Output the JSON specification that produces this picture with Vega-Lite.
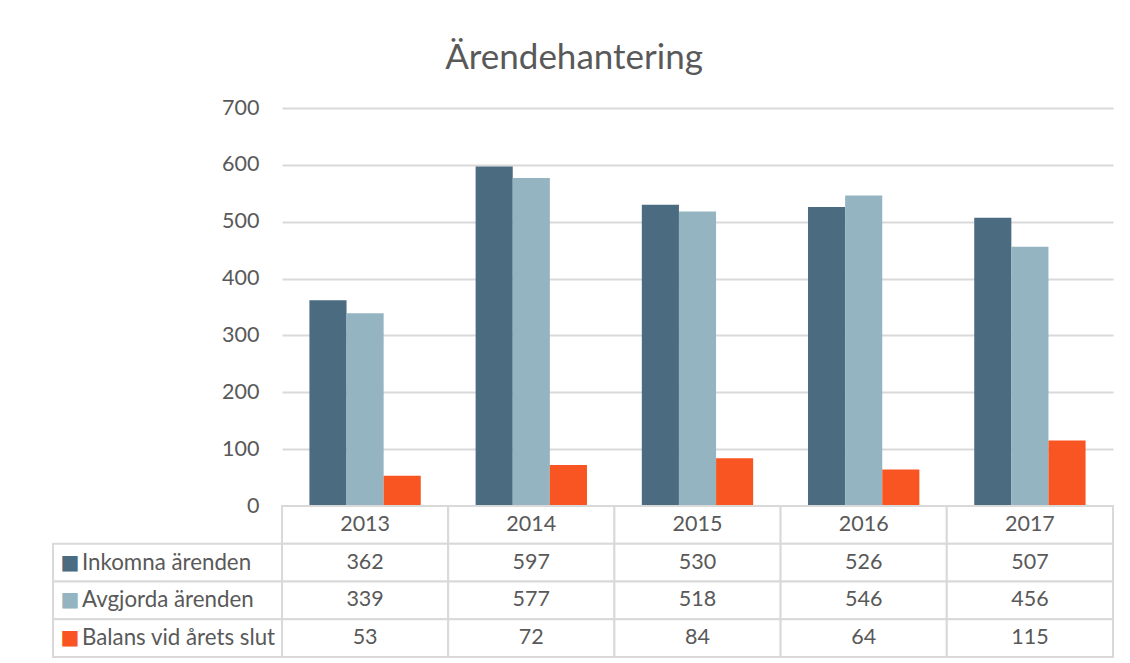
{
  "$schema": "https://vega.github.io/schema/vega-lite/v6.json",
  "background": "white",
  "padding": {"left": 52, "top": 41, "right": 16, "bottom": 5},
  "title": {"text": "Ärendehantering", "font": "Lato", "fontSize": 35, "fontWeight": "normal", "color": "#595959", "anchor": "middle", "baseline": "alphabetic", "offset": -7, "dx": -9},
  "datasets": {
    "bars": [
      {"year": "2013", "series": "Inkomna ärenden", "value": 362},
      {"year": "2013", "series": "Avgjorda ärenden", "value": 339},
      {"year": "2013", "series": "Balans vid årets slut", "value": 53},
      {"year": "2014", "series": "Inkomna ärenden", "value": 597},
      {"year": "2014", "series": "Avgjorda ärenden", "value": 577},
      {"year": "2014", "series": "Balans vid årets slut", "value": 72},
      {"year": "2015", "series": "Inkomna ärenden", "value": 530},
      {"year": "2015", "series": "Avgjorda ärenden", "value": 518},
      {"year": "2015", "series": "Balans vid årets slut", "value": 84},
      {"year": "2016", "series": "Inkomna ärenden", "value": 526},
      {"year": "2016", "series": "Avgjorda ärenden", "value": 546},
      {"year": "2016", "series": "Balans vid årets slut", "value": 64},
      {"year": "2017", "series": "Inkomna ärenden", "value": 507},
      {"year": "2017", "series": "Avgjorda ärenden", "value": 456},
      {"year": "2017", "series": "Balans vid årets slut", "value": 115}
    ],
    "years": [
      {"year": "2013"}, {"year": "2014"}, {"year": "2015"}, {"year": "2016"}, {"year": "2017"}
    ],
    "series": [
      {"series": "Inkomna ärenden"},
      {"series": "Avgjorda ärenden"},
      {"series": "Balans vid årets slut"}
    ]
  },
  "columns": 2,
  "spacing": 0,
  "bounds": "flush",
  "concat": [
    {
      "width": 229,
      "height": 398,
      "data": {"values": []},
      "mark": "point",
      "encoding": {}
    },
    {
      "width": 831,
      "height": 398,
      "data": {"name": "bars"},
      "mark": {"type": "bar"},
      "encoding": {
        "x": {"field": "year", "type": "nominal", "scale": {"paddingInner": 0.33, "paddingOuter": 0.165}, "axis": null},
        "xOffset": {"field": "series", "type": "nominal", "sort": ["Inkomna ärenden", "Avgjorda ärenden", "Balans vid årets slut"], "scale": {"paddingInner": 0, "paddingOuter": 0}},
        "y": {"field": "value", "type": "quantitative", "scale": {"domain": [0, 700]},
          "axis": {"values": [0, 100, 200, 300, 400, 500, 600, 700], "grid": true, "gridColor": "#d9d9d9", "gridWidth": 2, "domain": false, "ticks": false, "labelFont": "Lato", "labelFontSize": 21.5, "labelColor": "#595959", "labelPadding": 23, "title": null}},
        "color": {"field": "series", "type": "nominal", "scale": {"domain": ["Inkomna ärenden", "Avgjorda ärenden", "Balans vid årets slut"], "range": ["#4A6B80", "#94B4C2", "#F95522"]}, "legend": null}
      }
    },
    {
      "width": 229,
      "height": 151,
      "data": {"name": "series"},
      "encoding": {
        "y": {"field": "series", "type": "nominal", "scale": {"domain": ["hdr", "Inkomna ärenden", "Avgjorda ärenden", "Balans vid årets slut"], "paddingInner": 0, "paddingOuter": 0}, "axis": null}
      },
      "layer": [
        {"mark": {"type": "rect", "fill": "white", "stroke": "#d9d9d9", "strokeWidth": 2}},
        {"mark": {"type": "text", "text": "■", "font": "DejaVu Sans", "fontSize": 20, "align": "center", "baseline": "middle", "dx": -97.5},
         "encoding": {"color": {"field": "series", "type": "nominal", "scale": {"domain": ["Inkomna ärenden", "Avgjorda ärenden", "Balans vid årets slut"], "range": ["#4A6B80", "#94B4C2", "#F95522"]}, "legend": null}}},
        {"mark": {"type": "text", "font": "Lato", "fontSize": 22.3, "color": "#595959", "align": "left", "baseline": "middle", "dx": -85.5},
         "encoding": {"text": {"field": "series"}}}
      ]
    },
    {
      "width": 831,
      "height": 151,
      "layer": [
        {
          "data": {"name": "years"},
          "mark": {"type": "rect", "fill": "white", "stroke": "#d9d9d9", "strokeWidth": 2},
          "encoding": {
            "x": {"field": "year", "type": "nominal", "scale": {"paddingInner": 0, "paddingOuter": 0}, "axis": null},
            "y": {"datum": "hdr", "type": "nominal", "scale": {"domain": ["hdr", "Inkomna ärenden", "Avgjorda ärenden", "Balans vid årets slut"], "paddingInner": 0, "paddingOuter": 0}, "axis": null}
          }
        },
        {
          "data": {"name": "bars"},
          "mark": {"type": "rect", "fill": "white", "stroke": "#d9d9d9", "strokeWidth": 2},
          "encoding": {
            "x": {"field": "year", "type": "nominal"},
            "y": {"field": "series", "type": "nominal"}
          }
        },
        {
          "data": {"name": "years"},
          "mark": {"type": "text", "font": "Lato", "fontSize": 21.5, "color": "#595959", "align": "center", "baseline": "middle"},
          "encoding": {
            "x": {"field": "year", "type": "nominal"},
            "y": {"datum": "hdr", "type": "nominal"},
            "text": {"field": "year"}
          }
        },
        {
          "data": {"name": "bars"},
          "mark": {"type": "text", "font": "Lato", "fontSize": 21.5, "color": "#595959", "align": "center", "baseline": "middle"},
          "encoding": {
            "x": {"field": "year", "type": "nominal"},
            "y": {"field": "series", "type": "nominal"},
            "text": {"field": "value", "type": "quantitative"}
          }
        }
      ]
    }
  ],
  "config": {
    "view": {"stroke": null},
    "font": "Lato"
  }
}
